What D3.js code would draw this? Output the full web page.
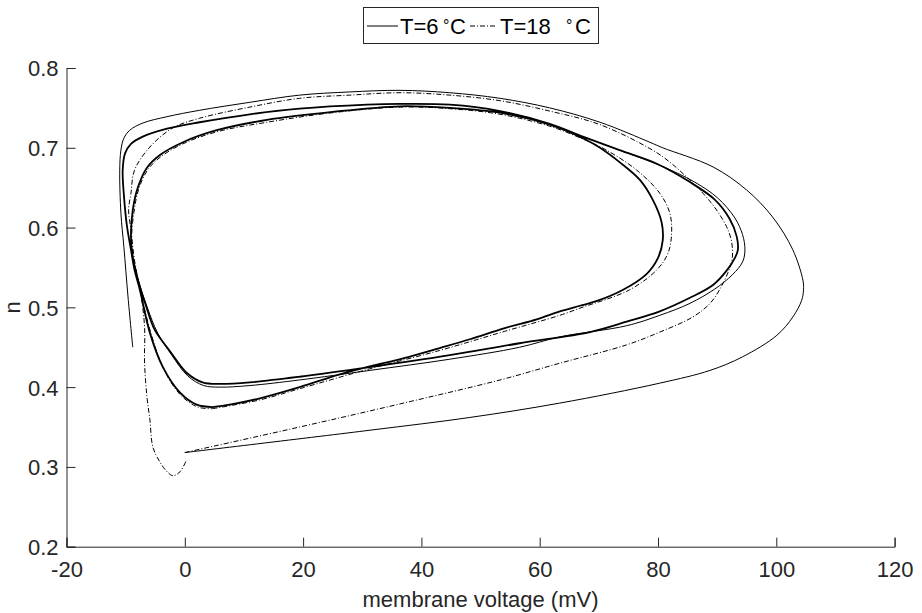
<!DOCTYPE html>
<html>
<head>
<meta charset="utf-8">
<script src="https://cdn.jsdelivr.net/npm/d3@7"></script>
<style>
  html, body { margin: 0; padding: 0; background: #fff; }
  svg { display: block; }
  text { font-family: "Liberation Sans", Arial, Helvetica, sans-serif; }
</style>
</head>
<body>
<svg id="chart" width="922" height="613"></svg>
<script>
// ---------------- data (membrane voltage [mV], n) ----------------
const xTicks = [-20, 0, 20, 40, 60, 80, 100, 120];
const yTicks = [0.2, 0.3, 0.4, 0.5, 0.6, 0.7, 0.8];
const xLabel = "membrane voltage (mV)";
const yLabel = "n";
const seriesNames = ["T=6", "T=18"];

// T = 6 °C : first spike from rest (thin outer trajectory) ending on left branch
const t6Transient = [
  [0, 0.318], [31.3, 0.346], [48.2, 0.362], [63.4, 0.380], [80.3, 0.405],
  [88.8, 0.421], [94.3, 0.438], [100.1, 0.465], [102.8, 0.488], [104.3, 0.509],
  [104.6, 0.522], [104.5, 0.534], [102.8, 0.572], [99.4, 0.613], [95.0, 0.647],
  [89.3, 0.676], [80.8, 0.700], [78.6, 0.707], [70.2, 0.732], [61.7, 0.750],
  [53.3, 0.762], [44.8, 0.769], [36.4, 0.772], [27.9, 0.770], [19.4, 0.766],
  [11.0, 0.757], [2.5, 0.747], [-3.0, 0.739], [-7.1, 0.731], [-9.3, 0.722],
  [-10.3, 0.712], [-10.8, 0.697], [-11.0, 0.672], [-10.8, 0.618], [-10.3, 0.576],
  [-9.6, 0.513], [-8.8, 0.450]
];

// T = 6 °C : period-2 limit cycle (inner loop then outer loop)
const t6Cycle = [
  [4.7, 0.375], [7.6, 0.378], [12.7, 0.386], [19.4, 0.400], [26.2, 0.416],
  [31.3, 0.426], [36.9, 0.436], [43.1, 0.449], [48.2, 0.460], [54.1, 0.474],
  [59.5, 0.485], [63.4, 0.495], [66.8, 0.502], [69.7, 0.508], [74.1, 0.522],
  [78.1, 0.542], [80.0, 0.562], [80.8, 0.584], [80.6, 0.607], [79.1, 0.635],
  [76.9, 0.660], [73.5, 0.682], [70.2, 0.700], [67.3, 0.712], [61.7, 0.729],
  [53.3, 0.744], [44.8, 0.750], [36.4, 0.752], [25.0, 0.745], [13.9, 0.735],
  [5.4, 0.722], [-0.3, 0.707], [-4.2, 0.691], [-6.4, 0.675], [-7.9, 0.651],
  [-8.8, 0.622], [-9.1, 0.588], [-8.8, 0.563], [-7.9, 0.534], [-6.6, 0.503],
  [-5.1, 0.472], [-2.5, 0.445], [0.3, 0.418], [3.0, 0.406], [5.9, 0.404],
  [11.0, 0.406], [19.4, 0.413], [31.3, 0.425], [44.8, 0.440], [56.6, 0.455],
  [68.5, 0.469], [74.7, 0.482], [80.3, 0.495], [85.4, 0.512], [89.3, 0.528],
  [91.6, 0.546], [93.0, 0.562], [93.5, 0.572], [93.3, 0.589], [92.1, 0.611],
  [89.6, 0.635], [85.4, 0.657], [79.8, 0.680], [73.5, 0.697], [67.3, 0.714],
  [61.7, 0.730], [53.3, 0.746], [44.8, 0.754], [36.4, 0.755], [30.8, 0.754],
  [19.4, 0.749], [11.0, 0.742], [2.5, 0.732], [-3.0, 0.724], [-7.1, 0.714],
  [-9.1, 0.705], [-10.1, 0.693], [-10.5, 0.672], [-10.3, 0.641], [-9.8, 0.603],
  [-9.1, 0.572], [-8.5, 0.547], [-7.6, 0.522], [-5.9, 0.468], [-3.7, 0.425],
  [-0.8, 0.393], [2.0, 0.378], [4.7, 0.375]
];

// T = 6 °C : slightly larger pass along the outer loop
const t6OuterPass = [
  [-8.8, 0.563], [-7.8, 0.532], [-6.3, 0.499], [-4.6, 0.468], [-2.2, 0.440],
  [0.5, 0.414], [3.2, 0.402], [5.9, 0.400], [11.0, 0.402], [19.4, 0.409],
  [31.3, 0.421], [44.8, 0.435], [56.6, 0.450], [63.4, 0.463], [74.7, 0.477],
  [80.3, 0.490], [85.4, 0.505], [89.6, 0.523], [92.6, 0.541], [94.3, 0.557],
  [94.7, 0.572], [94.3, 0.591], [93.0, 0.612], [90.1, 0.637], [86.2, 0.657],
  [80.3, 0.678], [73.5, 0.697]
];

// T = 18 °C : first large excursion from rest and final return towards rest
const t18Transient = [
  [0, 0.318], [19.4, 0.350], [36.4, 0.379], [53.3, 0.409], [63.4, 0.430],
  [74.7, 0.453], [80.3, 0.469], [85.9, 0.488], [88.8, 0.505], [90.4, 0.522],
  [91.8, 0.543], [92.5, 0.559], [92.6, 0.572], [92.3, 0.587], [91.6, 0.601],
  [89.9, 0.622], [87.6, 0.643], [84.9, 0.663], [82.0, 0.682], [79.1, 0.697],
  [70.2, 0.729], [61.7, 0.746], [53.3, 0.759], [44.8, 0.766], [36.4, 0.769],
  [27.9, 0.766], [19.4, 0.762], [11.0, 0.751], [2.5, 0.737], [-2.0, 0.725],
  [-5.9, 0.701], [-8.5, 0.672], [-9.1, 0.643], [-9.5, 0.622], [-9.1, 0.597],
  [-8.5, 0.559], [-7.4, 0.515], [-6.8, 0.475], [-6.8, 0.430], [-6.4, 0.388],
  [-5.9, 0.359], [-5.4, 0.325], [-4.2, 0.306], [-3.0, 0.294], [-2.0, 0.289],
  [-0.8, 0.294], [0.3, 0.309]
];

// T = 18 °C : limit cycle
const t18Cycle = [
  [4.7, 0.373], [12.7, 0.384], [19.4, 0.398], [31.3, 0.423], [43.1, 0.446],
  [54.1, 0.470], [63.4, 0.490], [66.8, 0.499], [75.2, 0.522], [79.8, 0.547],
  [81.7, 0.568], [82.3, 0.593], [82.0, 0.618], [80.3, 0.643], [76.4, 0.672],
  [71.3, 0.697], [67.3, 0.711], [61.7, 0.727], [53.3, 0.742], [44.8, 0.749],
  [36.4, 0.751], [25.0, 0.744], [13.9, 0.732], [5.4, 0.720], [-0.3, 0.705],
  [-4.2, 0.688], [-6.3, 0.672], [-7.8, 0.648], [-8.6, 0.619], [-9.0, 0.584],
  [-8.6, 0.557], [-7.8, 0.529], [-5.7, 0.467], [-3.6, 0.423], [-0.7, 0.390],
  [2.2, 0.375], [4.7, 0.373]
];

// ---------------- drawing ----------------
const svg = d3.select("#chart");
const axisColor = "#262626";
const fontSize = 22;

const x = d3.scaleLinear().domain([-20, 120]).range([66.5, 894.6]);
const y = d3.scaleLinear().domain([0.2, 0.8]).range([546.7, 68]);

const line = d3.line()
  .x(d => x(d[0]))
  .y(d => y(d[1]))
  .curve(d3.curveCatmullRom.alpha(0.5));

const dashDot = "5,2,1,2";

const plot = svg.append("g");

plot.append("path").datum(t6Cycle)
  .attr("d", line).attr("fill", "none").attr("stroke", "#000")
  .attr("stroke-width", 1.8);
plot.append("path").datum(t6OuterPass)
  .attr("d", line).attr("fill", "none").attr("stroke", "#000")
  .attr("stroke-width", 1);
plot.append("path").datum(t6Transient)
  .attr("d", line).attr("fill", "none").attr("stroke", "#000")
  .attr("stroke-width", 1);
plot.append("path").datum(t18Cycle)
  .attr("d", line).attr("fill", "none").attr("stroke", "#000")
  .attr("stroke-width", 1).attr("stroke-dasharray", dashDot);
plot.append("path").datum(t18Transient)
  .attr("d", line).attr("fill", "none").attr("stroke", "#000")
  .attr("stroke-width", 1).attr("stroke-dasharray", dashDot);

// axes (left and bottom only, ticks pointing inward)
const xAxis = d3.axisBottom(x).tickValues(xTicks).tickSize(-9).tickPadding(14)
  .tickFormat(d => String(d));
const yAxis = d3.axisLeft(y).tickValues(yTicks).tickSize(-9).tickPadding(8)
  .tickFormat(d => d.toFixed(1));

const gx = svg.append("g").attr("transform", `translate(0,${y(0.2)})`).call(xAxis);
const gy = svg.append("g").attr("transform", `translate(${x(-20)},0)`).call(yAxis);

[gx, gy].forEach(g => {
  g.select(".domain").attr("stroke", axisColor).attr("stroke-width", 1);
  g.selectAll(".tick line").attr("stroke", axisColor).attr("stroke-width", 1);
  g.selectAll(".tick text").attr("fill", axisColor)
    .style("font-size", fontSize + "px")
    .style("font-family", '"Liberation Sans", Arial, sans-serif');
});
gx.selectAll(".tick text").attr("dy", "0.72em");
gy.selectAll(".tick text").attr("dy", "0.36em");

// axis labels
svg.append("text")
  .attr("x", (x(-20) + x(120)) / 2).attr("y", 607)
  .attr("text-anchor", "middle").attr("fill", axisColor)
  .style("font-size", fontSize + "px")
  .text(xLabel);

svg.append("text")
  .attr("transform", `translate(20,${(y(0.2) + y(0.8)) / 2}) rotate(-90)`)
  .attr("text-anchor", "middle").attr("fill", axisColor)
  .style("font-size", fontSize + "px")
  .text(yLabel);

// legend
const lg = svg.append("g");
lg.append("rect").attr("x", 363.5).attr("y", 7.5).attr("width", 235).attr("height", 36)
  .attr("fill", "#fff").attr("stroke", axisColor).attr("stroke-width", 1);

const legendItems = [
  { name: seriesNames[0], x0: 367, x1: 398, tx: 400, dx: 443, cx: 450, dash: null },
  { name: seriesNames[1], x0: 470, x1: 497, tx: 500, dx: 566, cx: 575, dash: dashDot }
];
legendItems.forEach(it => {
  lg.append("line").attr("x1", it.x0).attr("x2", it.x1).attr("y1", 26).attr("y2", 26)
    .attr("stroke", "#000").attr("stroke-width", 1)
    .attr("stroke-dasharray", it.dash);
  const t = lg.append("text").attr("y", 34).attr("fill", "#000")
    .style("font-size", fontSize + "px");
  t.append("tspan").attr("x", it.tx).text(it.name + " ");
  t.append("tspan").attr("x", it.dx).attr("dy", -3).style("font-size", "16px").text("°");
  t.append("tspan").attr("x", it.cx).attr("dy", 3).text("C");
});
</script>
</body>
</html>
